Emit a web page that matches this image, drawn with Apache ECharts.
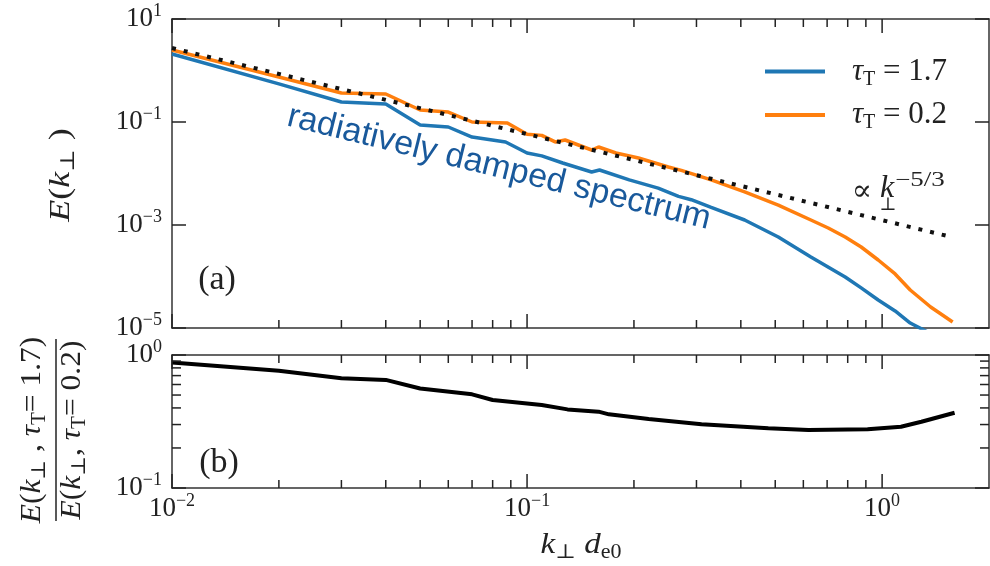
<!DOCTYPE html>
<html>
<head>
<meta charset="utf-8">
<script src="https://cdn.jsdelivr.net/npm/echarts@6/dist/echarts.min.js"></script>
<style>
  html, body { margin: 0; padding: 0; background: #fff; }
  #chart { width: 990px; height: 566px; }
</style>
</head>
<body>
<div id="chart"></div>
<script>
// spectrum, tau_T = 1.7 (radiatively damped)
const kBlue = [0.01, 0.02, 0.03, 0.04, 0.05, 0.06, 0.07, 0.087, 0.1, 0.11, 0.126, 0.152, 0.16, 0.194, 0.234, 0.267, 0.29, 0.33, 0.41, 0.51, 0.63, 0.787, 0.873, 0.975, 1.088, 1.2, 1.36];
const eBlue = [2.09, 0.55, 0.244, 0.224, 0.0875, 0.08, 0.051, 0.041, 0.025, 0.022, 0.016, 0.0107, 0.0117, 0.0075, 0.0052, 0.0036, 0.0031, 0.0022, 0.00125, 5.85e-4, 2.4e-4, 9.8e-5, 6e-5, 3.5e-5, 2.14e-5, 1.25e-5, 8e-6];
// spectrum, tau_T = 0.2
const kOrange = [0.01, 0.02, 0.03, 0.04, 0.05, 0.06, 0.07, 0.088, 0.1, 0.11, 0.12, 0.128, 0.152, 0.159, 0.178, 0.206, 0.25, 0.272, 0.33, 0.41, 0.51, 0.63, 0.705, 0.787, 0.873, 0.975, 1.088, 1.2, 1.37, 1.58];
const eOrange = [2.5, 0.75, 0.366, 0.35, 0.171, 0.156, 0.1, 0.096, 0.058, 0.055, 0.041, 0.0447, 0.0286, 0.0327, 0.025, 0.02, 0.0134, 0.0115, 0.0075, 0.0044, 0.00244, 0.00125, 8.75e-4, 5.85e-4, 3.74e-4, 2.09e-4, 1.12e-4, 5.47e-5, 2.56e-5, 1.31e-5];
// k^-5/3 reference line end points
const kRef = [0.01, 1.56];
const eRef = [2.73, 5.9e-4];
// ratio E(tau=1.7) / E(tau=0.2)
const kRatio = [0.01, 0.02, 0.03, 0.04, 0.05, 0.07, 0.08, 0.11, 0.13, 0.159, 0.17, 0.22, 0.31, 0.478, 0.62, 0.91, 1.13, 1.29, 1.6];
const ratio = [0.88, 0.76, 0.668, 0.65, 0.56, 0.506, 0.459, 0.421, 0.39, 0.375, 0.358, 0.33, 0.301, 0.281, 0.273, 0.276, 0.289, 0.315, 0.368];

// tick values
const xMajor = [0.01, 0.1, 1];
const xMinor = [0.02, 0.03, 0.04, 0.05, 0.06, 0.07, 0.08, 0.09, 0.2, 0.3, 0.4, 0.5, 0.6, 0.7, 0.8, 0.9];
const yTopMajor = [1e-5, 1e-3, 1e-1, 10];
const yBotMajor = [0.1, 1];
const yBotMinor = [0.2, 0.3, 0.4, 0.5, 0.6, 0.7, 0.8, 0.9];

// both axes are log10; the value axes run in decades
const lg = v => Math.log10(v);
const lgs = arr => arr.map(lg);

const SERIF = '"Liberation Serif", "DejaVu Serif", serif';
const INK = '#222';

const labelRich = {
  n: { fontFamily: SERIF, fontSize: 27, lineHeight: 34, color: INK },
  s: { fontFamily: SERIF, fontSize: 18, lineHeight: 18, verticalAlign: 'top', color: INK }
};
function pow10(v) {
  const e = Math.round(v);
  return '{n|10}{s|' + (e < 0 ? '\u2212' + (-e) : e) + '}';
}

function axis(grid, pos, min, max, opts) {
  return Object.assign({
    type: 'value', min: lg(min), max: lg(max), gridIndex: grid, position: pos,
    axisLine: { show: true, onZero: false, lineStyle: { color: '#333', width: 1.5 } },
    axisTick: { show: false },
    axisLabel: { show: false },
    splitLine: { show: false }
  }, opts || {});
}
const withLabels = (vals, margin) => ({
  axisLabel: { show: true, customValues: lgs(vals), formatter: pow10, rich: labelRich, margin: margin }
});

const zip = (a, b) => a.map((v, i) => [lg(v), lg(b[i])]);

// zrender rich styles for free text
const gRich = {
  it: { fontFamily: SERIF, fontStyle: 'italic', fontSize: 30, lineHeight: 36, fill: INK },
  sub: { fontFamily: SERIF, fontSize: 20, lineHeight: 20, verticalAlign: 'bottom', fill: INK }
};
function gText(x, y, text, o) {
  o = o || {};
  return {
    type: 'text', x: x, y: y, rotation: o.rotation || 0, scaleX: o.scaleX || 1, z: 100,
    style: {
      text: text, fontFamily: o.family || SERIF, fontSize: o.size || 30, fontStyle: o.style || 'normal',
      lineHeight: o.lh || 36, fill: o.fill || INK,
      align: 'center', textAlign: 'center', verticalAlign: 'middle', textVerticalAlign: 'middle',
      rich: gRich
    }
  };
}

const chart = echarts.init(document.getElementById('chart'));
chart.setOption({
  animation: false,
  grid: [
    { left: 172, top: 19, right: 1, height: 309 },
    { left: 172, top: 355, right: 1, height: 133 }
  ],
  xAxis: [
    axis(0, 'bottom', 0.01, 2), axis(0, 'top', 0.01, 2),
    axis(1, 'bottom', 0.01, 2, withLabels(xMajor, 4)), axis(1, 'top', 0.01, 2)
  ],
  yAxis: [
    axis(0, 'left', 1e-5, 10, withLabels(yTopMajor, 10)), axis(0, 'right', 1e-5, 10),
    axis(1, 'left', 0.1, 1, withLabels(yBotMajor, 10)), axis(1, 'right', 0.1, 1)
  ],
  legend: {
    orient: 'vertical', left: 760, top: 51, itemWidth: 60, itemHeight: 4, itemGap: 10,
    icon: 'rect', selectedMode: false,
    data: ['tau17', 'tau02'],
    formatter: name => name === 'tau17'
      ? '{g|}{it|\u03c4}{sub|T}{n| = 1.7}'
      : '{g|}{it|\u03c4}{sub|T}{n| = 0.2}',
    textStyle: {
      rich: {
        g: { width: 22 },
        it: { fontFamily: SERIF, fontStyle: 'italic', fontSize: 31, lineHeight: 36, color: INK },
        sub: { fontFamily: SERIF, fontSize: 20, lineHeight: 20, verticalAlign: 'bottom', color: INK },
        n: { fontFamily: SERIF, fontSize: 31, lineHeight: 36, color: INK }
      }
    }
  },
  series: [
    {
      name: 'tau17', type: 'line', xAxisIndex: 0, yAxisIndex: 0, symbol: 'none',
      data: zip(kBlue, eBlue), color: '#1f77b4', lineStyle: { width: 3.5, color: '#1f77b4' }
    },
    {
      name: 'tau02', type: 'line', xAxisIndex: 0, yAxisIndex: 0, symbol: 'none',
      data: zip(kOrange, eOrange), color: '#ff7f0e', lineStyle: { width: 3.5, color: '#ff7f0e' }
    },
    {
      name: 'ref', type: 'line', xAxisIndex: 0, yAxisIndex: 0, symbol: 'none',
      data: zip(kRef, eRef), lineStyle: { width: 4, color: '#111', type: [4, 8], cap: 'butt' }
    },
    {
      name: 'ratio', type: 'line', xAxisIndex: 2, yAxisIndex: 2, symbol: 'none',
      data: zip(kRatio, ratio), lineStyle: { width: 4, color: '#000' }
    }
  ]
});

// inward ticks on all four sides, placed through the chart's own axes
function ticksFor(finder, xr, yr, xSpec, ySpec) {
  const bl = chart.convertToPixel(finder, [xr[0], yr[0]]);
  const tr = chart.convertToPixel(finder, [xr[1], yr[1]]);
  const out = [];
  const seg = (x1, y1, x2, y2) => out.push({
    type: 'line', silent: true, z: 90,
    shape: { x1: x1, y1: y1, x2: x2, y2: y2 }, style: { stroke: INK, lineWidth: 1.5 }
  });
  xSpec.forEach(([v, len]) => {
    const px = chart.convertToPixel(finder, [lg(v), yr[0]])[0];
    seg(px, bl[1], px, bl[1] - len);
    seg(px, tr[1], px, tr[1] + len);
  });
  ySpec.forEach(([v, len]) => {
    const py = chart.convertToPixel(finder, [xr[0], lg(v)])[1];
    seg(bl[0], py, bl[0] + len, py);
    seg(tr[0], py, tr[0] - len, py);
  });
  return out;
}
const xSpec = xMajor.map(v => [v, 14]).concat(xMinor.map(v => [v, 8]));
const ySpecTop = yTopMajor.map(v => [v, 14]);
const ySpecBot = yBotMajor.map(v => [v, 14]).concat(yBotMinor.map(v => [v, 9]));
const ticks = [].concat(
  ticksFor({ xAxisIndex: 0, yAxisIndex: 0 }, [lg(0.01), lg(2)], [lg(1e-5), lg(10)], xSpec, ySpecTop),
  ticksFor({ xAxisIndex: 2, yAxisIndex: 2 }, [lg(0.01), lg(2)], [lg(0.1), lg(1)], xSpec, ySpecBot)
);

chart.setOption({
  graphic: [
    gText(61, 175, '{it|E}({it|k}{sub|\u22a5} )', { rotation: Math.PI / 2, scaleX: 1.2 }),
    {
      type: 'group', x: 56, y: 430, rotation: Math.PI / 2,
      children: [
        gText(0, -24, '{it|E}({it|k}{sub|\u22a5} , {it|\u03c4}{sub|T}= 1.7)', { scaleX: 1.05 }),
        { type: 'line', shape: { x1: -91, y1: 0, x2: 91, y2: 0 }, style: { stroke: INK, lineWidth: 1.5 } },
        gText(0, 16, '{it|E}({it|k}{sub|\u22a5}, {it|\u03c4}{sub|T}= 0.2)', { scaleX: 1.05 })
      ]
    },
    gText(581, 545, '{it|k}{sub|\u22a5} {it|d}{sub|e0}', { scaleX: 1.1 }),
    gText(217, 280, '(a)', { size: 34, lh: 40 }),
    gText(219, 463, '(b)', { size: 34, lh: 40 }),
    gText(862, 192, '\u221d', { size: 30 }),
    gText(887, 189, 'k', { size: 32, style: 'italic' }),
    gText(888, 205, '\u22a5', { size: 18, lh: 20 }),
    gText(920, 181, '\u22125/3', { size: 20, lh: 22, scaleX: 1.35 }),
    gText(499, 168, 'radiatively damped spectrum', {
      family: '"Liberation Sans", Arial, sans-serif', size: 34, lh: 40, fill: '#19599b', rotation: -0.241
    })
  ].concat(ticks)
});
</script>
</body>
</html>
